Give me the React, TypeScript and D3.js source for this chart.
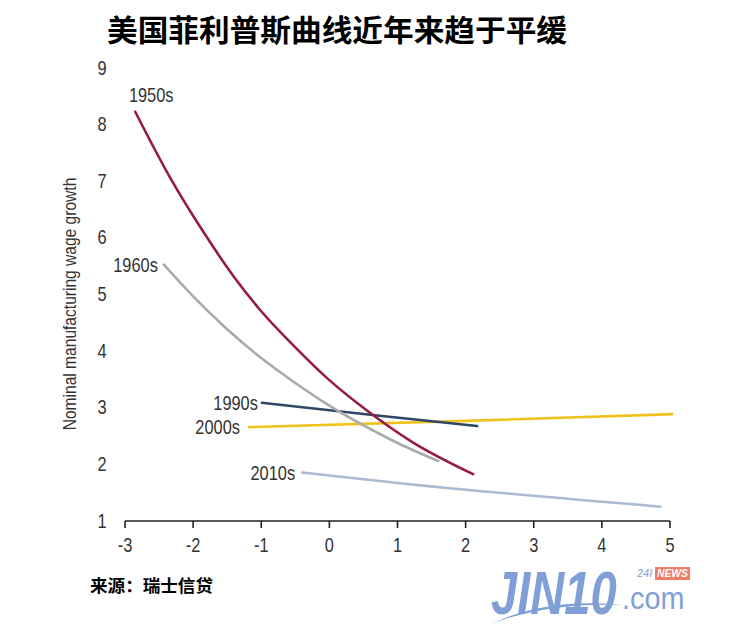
import React from "react";
import * as d3 from "d3";

const W = 756;
const H = 629;

const title = "美国菲利普斯曲线近年来趋于平缓";
const source = "来源：瑞士信贷";
const yLabel = "Nominal manufacturing wage growth";

const xTicks = [-3, -2, -1, 0, 1, 2, 3, 4, 5];
const yTicks = [1, 2, 3, 4, 5, 6, 7, 8, 9];

const s1950x = [-2.85, -2.33, -1.85, -1.41, -1.01, -0.5, 0.0, 0.6, 1.2, 2.11];
const s1950y = [8.21, 7.03, 6.09, 5.31, 4.7, 4.05, 3.47, 2.89, 2.39, 1.81];

const s1960x = [-2.43, -2.0, -1.5, -1.0, -0.5, 0.0, 0.455, 1.0, 1.6];
const s1960y = [5.51, 4.95, 4.37, 3.86, 3.42, 3.02, 2.7, 2.36, 2.04];

const s1990x = [-0.99, 0.6, 2.17];
const s1990y = [3.07, 2.86, 2.66];

const s2000x = [-1.18, 2.0, 5.03];
const s2000y = [2.64, 2.75, 2.87];

const s2010x = [-0.4, 1.04, 4.86];
const s2010y = [1.84, 1.65, 1.235];

const seriesNames = ["1950s", "1960s", "1990s", "2000s", "2010s"];
const seriesColors = ["#961c45", "#aaaaaa", "#2e4766", "#f0c31c", "#a8bbd0"];

const latinFont = "'Liberation Sans', Arial, sans-serif";
const NARROW = 0.82;

function NText(props: {
  x: number;
  y: number;
  size: number;
  anchor?: string;
  children: React.ReactNode;
  fill?: string;
}) {
  return (
    <text
      transform={`translate(${props.x},${props.y}) scale(${NARROW},1)`}
      textAnchor={(props.anchor || "middle") as any}
      fontFamily={latinFont}
      fontSize={props.size}
      fill={props.fill || "#333"}
    >
      {props.children}
    </text>
  );
}

export default function App() {
  const x = d3.scaleLinear().domain([-3, 5]).range([125, 670]);
  const y = d3.scaleLinear().domain([1, 9]).range([520, 67]);
  const line = d3
    .line<[number, number]>()
    .x((d) => x(d[0]))
    .y((d) => y(d[1]))
    .curve(d3.curveMonotoneX);

  const series = [
    { xs: s1950x, ys: s1950y },
    { xs: s1960x, ys: s1960y },
    { xs: s1990x, ys: s1990y },
    { xs: s2000x, ys: s2000y },
    { xs: s2010x, ys: s2010y },
  ].map((s, i) => ({
    name: seriesNames[i],
    color: seriesColors[i],
    pts: s.xs.map((v, j) => [v, s.ys[j]] as [number, number]),
  }));

  const labelOffsets = [
    { dx: 16, dy: -10, anchor: "middle" },
    { dx: -6, dy: 7, anchor: "end" },
    { dx: -4, dy: 7, anchor: "end" },
    { dx: -9, dy: 7, anchor: "end" },
    { dx: -7, dy: 8, anchor: "end" },
  ];

  return (
    <svg
      width={W}
      height={H}
      style={{ position: "absolute", left: 0, top: 0, background: "#fff" }}
    >
      <rect x={0} y={0} width={W} height={H} fill="#fff" />
      <text
        x={337}
        y={41}
        textAnchor="middle"
        fontFamily="'Noto Sans CJK SC', sans-serif"
        fontWeight={700}
        fontSize={30}
        fill="#000"
        textLength={460}
        lengthAdjust="spacingAndGlyphs"
      >
        {title}
      </text>

      {/* y axis label */}
      <g transform="translate(76,304) rotate(-90)">
        <NText x={0} y={0} size={19}>
          {yLabel}
        </NText>
      </g>

      {/* y tick labels */}
      {yTicks.map((t) => (
        <NText key={t} x={102} y={y(t) + 7.5} size={20}>
          {t}
        </NText>
      ))}

      {/* x axis */}
      <line x1={x(-3)} x2={x(5)} y1={y(1) + 1} y2={y(1) + 1} stroke="#222" strokeWidth={1.6} />
      {xTicks.map((t) => (
        <g key={t}>
          <line x1={x(t)} x2={x(t)} y1={y(1) + 1} y2={y(1) + 8} stroke="#222" strokeWidth={1.6} />
          <NText x={x(t)} y={552} size={20}>
            {t}
          </NText>
        </g>
      ))}

      {/* series */}
      {series
        .slice()
        .reverse()
        .map((s) => (
          <path
            key={s.name}
            d={line(s.pts) || ""}
            fill="none"
            stroke={s.color}
            strokeWidth={2.6}
            strokeLinecap="round"
          />
        ))}
      {series.map((s, i) => {
        const o = labelOffsets[i];
        const p = s.pts[0];
        return (
          <NText key={s.name} x={x(p[0]) + o.dx} y={y(p[1]) + o.dy} size={20} anchor={o.anchor}>
            {s.name}
          </NText>
        );
      })}

      {/* source */}
      <text
        x={90}
        y={592}
        fontFamily="'Noto Sans CJK SC', sans-serif"
        fontWeight={700}
        fontSize={17}
        fill="#000"
        textLength={123}
        lengthAdjust="spacingAndGlyphs"
      >
        {source}
      </text>

      {/* logo */}
      <g fill="#7f9fd6">
        <text
          transform="translate(491,614) scale(0.76,1)"
          fontFamily={latinFont}
          fontWeight={700}
          fontStyle="italic"
          fontSize={62}
        >
          JIN10
        </text>
        <text
          transform="translate(622,609) scale(0.9,1)"
          fontFamily={latinFont}
          fontSize={32}
        >
          .com
        </text>
        <text
          transform="translate(637,577)"
          fontFamily={latinFont}
          fontStyle="italic"
          fontSize={11}
        >
          24I
        </text>
        <path d="M491,624 Q548,597 623,605 Q548,602 491,624 Z" />
      </g>
      <rect x={655} y={567} width={35} height={13} fill="#f07b69" />
      <text
        transform="translate(672.5,577) scale(0.94,1)"
        textAnchor="middle"
        fontFamily={latinFont}
        fontWeight={700}
        fontStyle="italic"
        fontSize={11}
        fill="#fff"
      >
        NEWS
      </text>
    </svg>
  );
}
